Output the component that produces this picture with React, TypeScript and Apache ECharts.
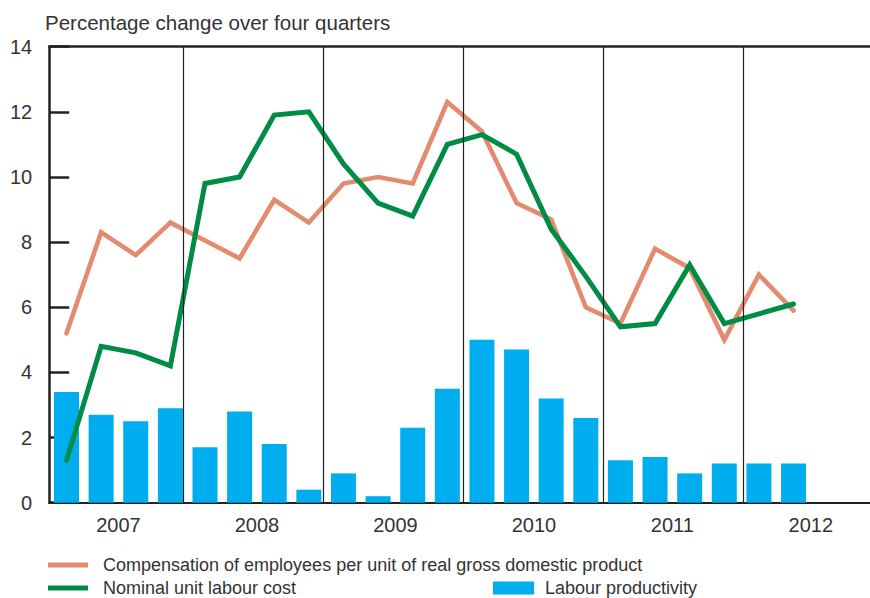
import React, { useEffect, useRef } from "react";
import * as echarts from "echarts";

// ---- data (2007 Q1 .. 2012 Q2) ----
const years = ["2007", "2008", "2009", "2010", "2011", "2012"];
const compensation = [5.2, 8.3, 7.6, 8.6, 8.05, 7.5, 9.3, 8.6, 9.8, 10.0, 9.8, 12.3, 11.4, 9.2, 8.7, 6.0, 5.5, 7.8, 7.2, 5.0, 7.0, 5.9];
const nominalULC = [1.3, 4.8, 4.6, 4.2, 9.8, 10.0, 11.9, 12.0, 10.4, 9.2, 8.8, 11.0, 11.3, 10.7, 8.4, 6.95, 5.4, 5.5, 7.3, 5.5, 5.8, 6.1];
const productivity = [3.4, 2.7, 2.5, 2.9, 1.7, 2.8, 1.8, 0.4, 0.9, 0.2, 2.3, 3.5, 5.0, 4.7, 3.2, 2.6, 1.3, 1.4, 0.9, 1.2, 1.2, 1.2];
const yearBoundaries = [4, 8, 12, 16, 20];

const NAME_COMP = "Compensation of employees per unit of real gross domestic product";
const NAME_NULC = "Nominal unit labour cost";
const NAME_PROD = "Labour productivity";

const FONT = "'Liberation Sans', Arial, Helvetica, sans-serif";
const TEXT = "#333333";
const ORANGE = "#E38B6E";
const GREEN = "#008C44";
const BLUE = "#00AEEF";

// layout
const WIDTH = 870;
const QUARTER_PX = 34.62;
const PLOT_LEFT = 49.2;
const GRID_W = WIDTH - PLOT_LEFT;
const YEAR_ORIGIN = 43.8;
const YEAR_Q = 34.975;
const dataAxisMax = GRID_W / QUARTER_PX;
const yearAxisMin = (PLOT_LEFT - YEAR_ORIGIN) / YEAR_Q;
const yearAxisMax = yearAxisMin + GRID_W / YEAR_Q;

export default function App() {
  const ref = useRef<HTMLDivElement>(null);
  useEffect(() => {
    if (!ref.current) return;
    const chart = echarts.init(ref.current, undefined, { renderer: "svg" });
    const atQ = (arr: number[]) => arr.map((v, i) => [i + 0.5, v]);
    const legendText = { fontFamily: FONT, fontSize: 18, color: TEXT, lineHeight: 18 };
    chart.setOption({
      animation: false,
      backgroundColor: "#ffffff",
      textStyle: { fontFamily: FONT },
      title: {
        text: "Percentage change over four quarters",
        left: 45,
        top: 12,
        padding: 0,
        textStyle: { fontFamily: FONT, fontSize: 20.5, fontWeight: "normal", color: TEXT },
      },
      legend: [
        {
          data: [{ name: NAME_COMP, icon: "rect" }],
          left: 48,
          top: 556,
          padding: 0,
          itemWidth: 40,
          itemHeight: 5,
          selectedMode: false,
          textStyle: { ...legendText, padding: [0, 0, 0, 10] },
        },
        {
          data: [{ name: NAME_NULC, icon: "rect" }],
          left: 48,
          top: 579,
          padding: 0,
          itemWidth: 40,
          itemHeight: 5,
          selectedMode: false,
          textStyle: { ...legendText, padding: [0, 0, 0, 10] },
        },
        {
          data: [{ name: NAME_PROD, icon: "rect" }],
          left: 493,
          top: 579,
          padding: 0,
          itemWidth: 41,
          itemHeight: 13,
          selectedMode: false,
          textStyle: { ...legendText, padding: [0, 0, 0, 6] },
        },
      ],
      grid: { left: PLOT_LEFT, top: 46.7, right: 0, height: 456, containLabel: false },
      xAxis: [
        {
          type: "value",
          position: "bottom",
          min: 0,
          max: dataAxisMax,
          interval: 2,
          axisLine: { show: true, lineStyle: { color: "#222", width: 2.2 } },
          axisTick: { show: false },
          splitLine: { show: false },
          axisLabel: {
            show: true,
            margin: 12,
            fontFamily: FONT,
            fontSize: 20,
            color: TEXT,
            showMinLabel: false,
            showMaxLabel: false,
            formatter: (v: number) => {
              const r = Math.round(v);
              if (Math.abs(v - r) < 1e-6 && r % 4 === 2) return years[(r - 2) / 4] ?? "";
              return "";
            },
          },
        },
        {
          type: "value",
          position: "top",
          min: yearAxisMin,
          max: yearAxisMax,
          axisLine: { show: true, lineStyle: { color: "#222", width: 2.5 } },
          axisTick: { show: false },
          axisLabel: { show: false },
          splitLine: { show: false },
        },
      ],
      yAxis: {
        type: "value",
        min: 0,
        max: 14,
        interval: 2,
        offset: 1,
        axisLine: { show: true, lineStyle: { color: "#222", width: 2.5 } },
        axisTick: { show: true, inside: true, length: 20, lineStyle: { color: "#222", width: 2.5 } },
        splitLine: { show: false },
        axisLabel: { margin: 16, fontFamily: FONT, fontSize: 20, color: TEXT },
      },
      series: [
        {
          name: NAME_PROD,
          type: "bar",
          xAxisIndex: 0,
          data: atQ(productivity),
          barWidth: 25,
          itemStyle: { color: BLUE },
          z: 1,
        },
        {
          name: "yearLines",
          type: "line",
          xAxisIndex: 1,
          data: [],
          z: 2,
          markLine: {
            silent: true,
            symbol: ["none", "none"],
            label: { show: false },
            lineStyle: { color: "#222", width: 1.2, type: "solid" },
            data: yearBoundaries.map((b) => ({ xAxis: b })),
          },
        },
        {
          name: NAME_COMP,
          type: "line",
          xAxisIndex: 0,
          data: atQ(compensation),
          symbol: "none",
          showSymbol: false,
          itemStyle: { color: ORANGE },
          lineStyle: { color: ORANGE, width: 4.6, cap: "round", join: "miter" },
          z: 3,
        },
        {
          name: NAME_NULC,
          type: "line",
          xAxisIndex: 0,
          data: atQ(nominalULC),
          symbol: "none",
          showSymbol: false,
          itemStyle: { color: GREEN },
          lineStyle: { color: GREEN, width: 5, cap: "round", join: "miter" },
          z: 4,
        },
      ],
    });
    return () => chart.dispose();
  }, []);
  return (
    <div
      ref={ref}
      style={{ position: "fixed", left: 0, top: 0, width: WIDTH, height: 598, background: "#fff" }}
    />
  );
}
